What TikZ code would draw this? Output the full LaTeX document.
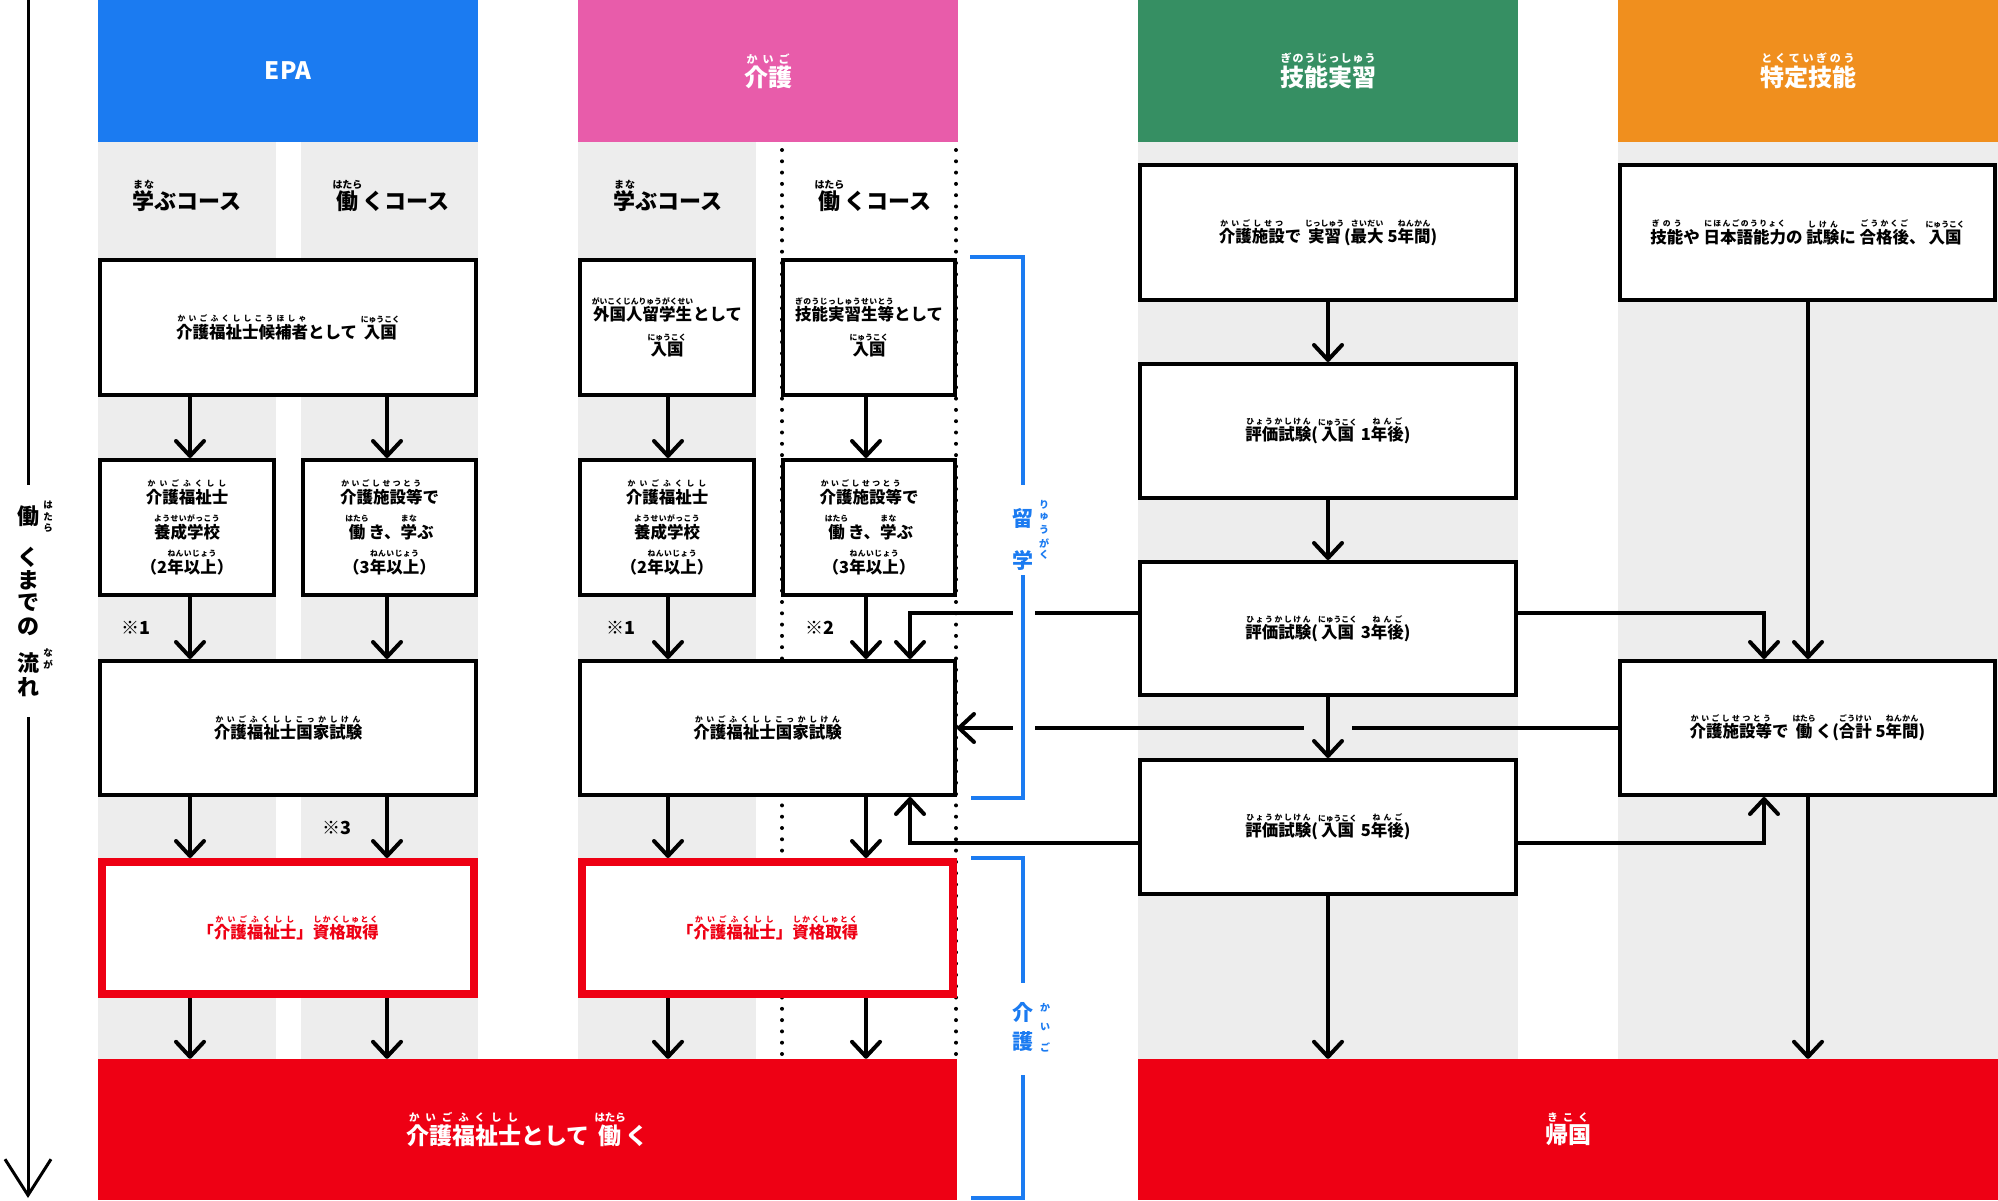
\documentclass[tikz,border=0pt]{standalone}
\usepackage{fontspec}
\setmainfont{Noto Sans CJK JP}
\usetikzlibrary{arrows.meta}
\definecolor{epablue}{RGB}{27,123,241}
\definecolor{kpink}{RGB}{232,92,170}
\definecolor{ggreen}{RGB}{54,143,99}
\definecolor{torange}{RGB}{240,143,30}
\definecolor{kred}{RGB}{238,0,20}
\definecolor{graybg}{RGB}{237,237,237}
\makeatletter
\newcommand\rubyfont{\fontsize{7.5}{7.5}\selectfont}
\newcommand\rubysize[1]{\def\rubyfont{\fontsize{#1}{#1}\selectfont}}
\newcommand\rb[2]{\leavevmode\begingroup
  \setbox0\hbox{#1}\setbox2\hbox{\rubyfont #2}%
  \ifdim\wd2<\wd0 \setbox2\hbox to\wd0{\rubyfont\@tfor\rb@c:=#2\do{\hfil\rb@c\hfil}}\fi
  \vbox{\offinterlineskip\halign{\hfil##\hfil\cr\box2\cr\noalign{\kern1.5pt}\box0\cr}}\endgroup}
\makeatother
\pgfdeclarelayer{bg}\pgfdeclarelayer{conn}
\pgfsetlayers{bg,conn,main}
\begin{document}
\begin{tikzpicture}[x=1pt,y=-1pt,
 hdr/.style={inner sep=0pt, text=white, minimum width=380, minimum height=142, font=\rubysize{11}\fontsize{24}{28}\selectfont\bfseries},
 lbl/.style={inner sep=0pt, font=\rubysize{10}\fontsize{22}{26}\selectfont\bfseries},
 box/.style={draw=black, line width=4pt, fill=white, inner sep=0pt, align=center, font=\rubysize{7.8}\fontsize{16.5}{35}\selectfont\bfseries},
 redbox/.style={box, draw=kred, line width=8pt, text=kred},
 bar/.style={fill=kred, inner sep=0pt, text=white, font=\rubysize{10.5}\fontsize{23}{28}\selectfont\bfseries},
 arr/.style={line width=4pt, -{Straight Barb[length=15pt,width=28pt,round]}},
 dots/.style={line width=4pt, line cap=round, dash pattern=on 0pt off 11.3pt},
 bl/.style={draw=epablue, line width=4pt},
 note/.style={inner sep=0pt, font=\fontsize{18}{20}\selectfont\bfseries},
 axch/.style={inner sep=0pt, font=\fontsize{22}{22}\selectfont\bfseries},
 axrb/.style={inner sep=0pt, font=\fontsize{9.5}{9.5}\selectfont\bfseries},
 brch/.style={inner sep=0pt, text=epablue, font=\fontsize{21}{21}\selectfont\bfseries},
 brrb/.style={inner sep=0pt, text=epablue, font=\fontsize{10}{10}\selectfont\bfseries}]
\useasboundingbox (0,0) rectangle (1998,1201);
\begin{pgfonlayer}{bg}
\fill[white] (0,0) rectangle (1998,1201);
\fill[graybg] (98,142) rectangle (276,1059);
\fill[graybg] (301,142) rectangle (478,1059);
\fill[graybg] (578,142) rectangle (756,1059);
\fill[graybg] (1138,142) rectangle (1518,1059);
\fill[graybg] (1618,142) rectangle (1998,1059);
\draw[dots] (782,150) -- (782,1059);
\draw[dots] (956,150) -- (956,1059);
\end{pgfonlayer}

% headers
\node[hdr, fill=epablue] (h1) at (288,71) {EPA};
\node[hdr, fill=kpink] (h2) at (768,71) {\rb{介護}{かいご}};
\node[hdr, fill=ggreen] (h3) at (1328,71) {\rb{技能実習}{ぎのうじっしゅう}};
\node[hdr, fill=torange] (h4) at (1808,71) {\rb{特定技能}{とくていぎのう}};

% course labels
\node[lbl] (l1) at (187,196) {\rb{学}{まな}ぶコース};
\node[lbl] (l2) at (391,196) {\rb{働}{はたら}くコース};
\node[lbl] (l3) at (668,196) {\rb{学}{まな}ぶコース};
\node[lbl] (l4) at (873,196) {\rb{働}{はたら}くコース};

% axis
\coordinate (a0) at (28,0);
\coordinate (a1) at (28,485);
\coordinate (a2) at (28,717);
\coordinate (a3) at (28,1198);
\draw[line width=3pt] (a0) -- (a1);
\draw[line width=3pt, -{Straight Barb[length=36pt,width=46pt]}] (a2) -- (a3);
\node[axch] (ax1) at (28,516) {働};
\node[axch] (ax2) at (28,557) {く};
\node[axch] (ax3) at (28,580) {ま};
\node[axch] (ax4) at (28,603) {で};
\node[axch] (ax5) at (28,627) {の};
\node[axch] (ax6) at (28,663) {流};
\node[axch] (ax7) at (28,687) {れ};
\node[axrb] (ar1) at (48,505) {は};
\node[axrb] (ar2) at (48,517) {た};
\node[axrb] (ar3) at (48,528) {ら};
\node[axrb] (ar4) at (48,653) {な};
\node[axrb] (ar5) at (48,665) {が};

% EPA boxes
\node[box, minimum width=376, minimum height=135] (e1) at (288,327.5) {\rb{介護福祉士候補者}{かいごふくししこうほしゃ}として \rb{入国}{にゅうこく}};
\node[box, minimum width=174, minimum height=135] (e2) at (187,527.5) {\rb{介護福祉士}{かいごふくしし}\\\rb{養成学校}{ようせいがっこう}\\（2\rb{年以上}{ねんいじょう}）};
\node[box, minimum width=173, minimum height=135] (e3) at (389.5,527.5) {\rb{介護施設等}{かいごしせつとう}で\\\rb{働}{はたら}き、\rb{学}{まな}ぶ\\（3\rb{年以上}{ねんいじょう}）};
\node[box, minimum width=376, minimum height=134] (e4) at (288,728) {\rb{介護福祉士国家試験}{かいごふくししこっかしけん}};
\node[redbox, minimum width=372, minimum height=132] (e5) at (288,928) {「\rb{介護福祉士}{かいごふくしし}」\rb{資格取得}{しかくしゅとく}};

% Kaigo boxes
\node[box, minimum width=174, minimum height=135] (k1) at (667,327.5) {\rb{外国人留学生}{がいこくじんりゅうがくせい}として\\\rb{入国}{にゅうこく}};
\node[box, minimum width=172, minimum height=135] (k2) at (869,327.5) {\rb{技能実習生等}{ぎのうじっしゅうせいとう}として\\\rb{入国}{にゅうこく}};
\node[box, minimum width=174, minimum height=135] (k3) at (667,527.5) {\rb{介護福祉士}{かいごふくしし}\\\rb{養成学校}{ようせいがっこう}\\（2\rb{年以上}{ねんいじょう}）};
\node[box, minimum width=172, minimum height=135] (k4) at (869,527.5) {\rb{介護施設等}{かいごしせつとう}で\\\rb{働}{はたら}き、\rb{学}{まな}ぶ\\（3\rb{年以上}{ねんいじょう}）};
\node[box, minimum width=375, minimum height=134] (k5) at (767.5,728) {\rb{介護福祉士国家試験}{かいごふくししこっかしけん}};
\node[redbox, minimum width=371, minimum height=132] (k6) at (767.5,928) {「\rb{介護福祉士}{かいごふくしし}」\rb{資格取得}{しかくしゅとく}};

% Ginou jisshuu boxes
\node[box, minimum width=376, minimum height=135] (g1) at (1328,232.5) {\rb{介護施設}{かいごしせつ}で \rb{実習}{じっしゅう}(\rb{最大}{さいだい} 5\rb{年間}{ねんかん})};
\node[box, minimum width=376, minimum height=134] (g2) at (1328,431) {\rb{評価試験}{ひょうかしけん}(\rb{入国}{にゅうこく} 1\rb{年後}{ねんご})};
\node[box, minimum width=376, minimum height=133] (g3) at (1328,628.5) {\rb{評価試験}{ひょうかしけん}(\rb{入国}{にゅうこく} 3\rb{年後}{ねんご})};
\node[box, minimum width=376, minimum height=134] (g4) at (1328,827) {\rb{評価試験}{ひょうかしけん}(\rb{入国}{にゅうこく} 5\rb{年後}{ねんご})};

% Tokutei boxes
\node[box, minimum width=375, minimum height=135] (t1) at (1807.5,232.5) {\rb{技能}{ぎのう}や \rb{日本語能力}{にほんごのうりょく}の \rb{試験}{しけん}に \rb{合格後}{ごうかくご}、\rb{入国}{にゅうこく}};
\node[box, minimum width=375, minimum height=134] (t2) at (1807.5,728) {\rb{介護施設等}{かいごしせつとう}で \rb{働}{はたら}く(\rb{合計}{ごうけい} 5\rb{年間}{ねんかん})};

% bottom bars
\node[bar, minimum width=859, minimum height=141] (b1) at (527.5,1129.5) {\rb{介護福祉士}{かいごふくしし}として \rb{働}{はたら}く};
\node[bar, minimum width=860, minimum height=141] (b2) at (1568,1129.5) {\rb{帰国}{きこく}};

% arrow columns / rows
\coordinate (ca) at (190,0);
\coordinate (cb) at (387,0);
\coordinate (cc) at (668,0);
\coordinate (cd) at (866,0);
\coordinate (ct) at (1808,0);
\coordinate (xA) at (910,0);
\coordinate (xB) at (1764,0);
\coordinate (yA) at (0,613);
\coordinate (yD) at (0,843);

\begin{pgfonlayer}{conn}
\draw[arr] (e1.south -| ca) -- (e2.north -| ca);
\draw[arr] (e1.south -| cb) -- (e3.north -| cb);
\draw[arr] (e2.south -| ca) -- (e4.north -| ca);
\draw[arr] (e3.south -| cb) -- (e4.north -| cb);
\draw[arr] (e4.south -| ca) -- (e5.north -| ca);
\draw[arr] (e4.south -| cb) -- (e5.north -| cb);
\draw[arr] (e5.south -| ca) -- (b1.north -| ca);
\draw[arr] (e5.south -| cb) -- (b1.north -| cb);

\draw[arr] (k1.south -| cc) -- (k3.north -| cc);
\draw[arr] (k2.south -| cd) -- (k4.north -| cd);
\draw[arr] (k3.south -| cc) -- (k5.north -| cc);
\draw[arr] (k4.south -| cd) -- (k5.north -| cd);
\draw[arr] (k5.south -| cc) -- (k6.north -| cc);
\draw[arr] (k5.south -| cd) -- (k6.north -| cd);
\draw[arr] (k6.south -| cc) -- (b1.north -| cc);
\draw[arr] (k6.south -| cd) -- (b1.north -| cd);

\draw[arr] (g1.south) -- (g2.north);
\draw[arr] (g2.south) -- (g3.north);
\draw[arr] (g4.south) -- (b2.north -| g4.south);
\draw[arr] (t1.south -| ct) -- (t2.north -| ct);
\draw[arr] (t2.south -| ct) -- (b2.north -| ct);

\draw[arr] (g3.west |- yA) -| (k5.north -| xA);
\draw[arr] (g3.east |- yA) -| (t2.north -| xB);
\draw[arr] (t2.west) -- (k5.east);
\draw[arr] (g4.west |- yD) -| (k5.south -| xA);
\draw[arr] (g4.east |- yD) -| (t2.south -| xB);

\fill[white] (1013,595) rectangle (1035,745);
\fill[graybg] (1304,721) rectangle (1352,737);
\draw[arr] (g3.south) -- (g4.north);
\end{pgfonlayer}

% brackets
\draw[bl] (970,257) -- (1023,257) -- (1023,485);
\draw[bl] (1023,575) -- (1023,798) -- (971,798);
\draw[bl] (971,858) -- (1023,858) -- (1023,983);
\draw[bl] (1023,1075) -- (1023,1198) -- (971,1198);
\node[brch] (r1) at (1023,518) {留};
\node[brch] (r2) at (1023,560) {学};
\node[brrb] (rr1) at (1044,505) {り};
\node[brrb] (rr2) at (1044,517) {ゅ};
\node[brrb] (rr3) at (1044,530) {う};
\node[brrb] (rr4) at (1044,543) {が};
\node[brrb] (rr5) at (1044,555) {く};
\node[brch] (s1) at (1023,1012) {介};
\node[brch] (s2) at (1023,1042) {護};
\node[brrb] (sr1) at (1045,1008) {か};
\node[brrb] (sr2) at (1045,1027) {い};
\node[brrb] (sr3) at (1045,1047) {ご};

% notes
\node[note] (n1) at (136,628) {※1};
\node[note] (n2) at (621,628) {※1};
\node[note] (n3) at (820,628) {※2};
\node[note] (n4) at (337,828) {※3};
\end{tikzpicture}
\end{document}
